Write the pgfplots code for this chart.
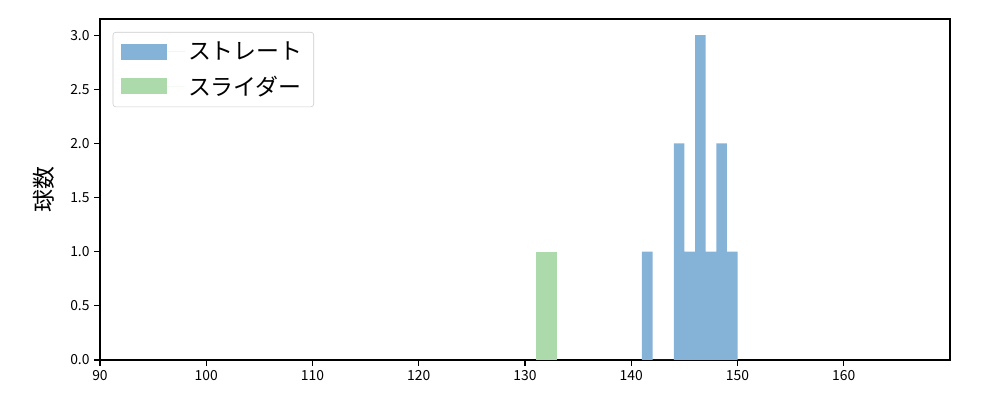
\documentclass[border=0pt]{standalone}
\usepackage{pgfplots}
\pgfplotsset{compat=1.18}
\usepackage{fontspec}
\setmainfont{Noto Sans CJK JP}
\definecolor{cblue}{RGB}{133,178,215}
\definecolor{cgreen}{RGB}{173,218,170}
\begin{document}
\begin{tikzpicture}
\useasboundingbox (-72pt,-28.8pt) rectangle (648pt,259.2pt);
\begin{axis}[
  scale only axis,
  width=612pt, height=245.52pt,
  xmin=90, xmax=170, ymin=0, ymax=3.15,
  xtick={90,100,...,160},
  ytick={0,0.5,1,1.5,2,2.5,3},
  yticklabel style={/pgf/number format/.cd, fixed, fixed zerofill, precision=1},
  /pgf/number format/assume math mode=true,
  tick label style={font=\fontsize{10}{12}\selectfont},
  tick align=outside, tick pos=left,
  major tick length=4pt,
  axis line style={line width=0.9pt},
  every tick/.style={line width=0.9pt, black},
  ylabel={球数},
  ylabel style={font=\fontsize{16.5}{18}\selectfont, yshift=4.5pt},
  legend style={at={(0.015,0.962)}, anchor=north west, draw=black!20, rounded corners=2pt,
    font=\fontsize{16.5}{19}\selectfont, row sep=6pt, inner xsep=6pt, inner ysep=5pt},
  legend cell align=left,
  legend image code/.code={\path (0pt,0pt) -- (46pt,0pt);\fill[#1, sharp corners] (0pt,-5.8pt) rectangle (33pt,5.8pt);},
]
\addplot[ybar interval, fill=cblue, draw=none] coordinates {
 (141,1) (142,0) (143,0) (144,2) (145,1) (146,3) (147,1) (148,2) (149,1) (150,0)};
\addlegendentry{ストレート}
\addplot[ybar interval, fill=cgreen, draw=none] coordinates {
 (131,1) (133,0)};
\addlegendentry{スライダー}
\end{axis}
\end{tikzpicture}
\end{document}
